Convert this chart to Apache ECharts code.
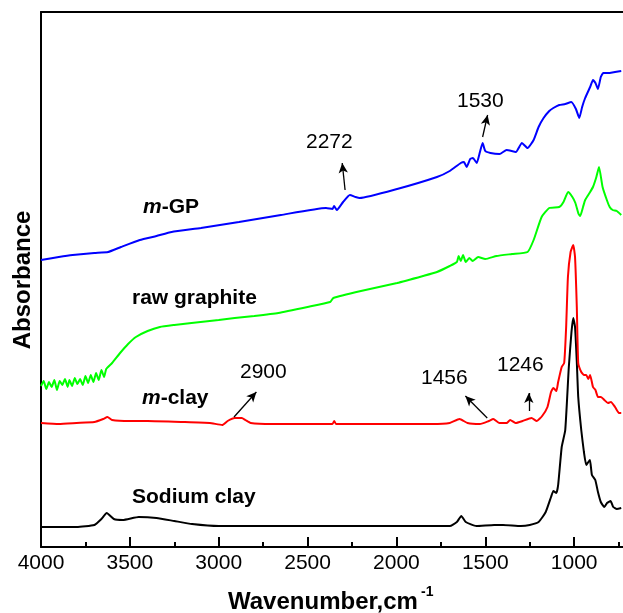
<!DOCTYPE html>
<html>
<head>
<meta charset="utf-8">
<title>FTIR spectra</title>
<script src="https://cdn.jsdelivr.net/npm/echarts@6/dist/echarts.min.js"></script>
<style>
  html, body { margin: 0; padding: 0; background: #fff; overflow: hidden; }
  /* the original figure is cropped on the right, so the canvas runs past the window */
  #chart { width: 666px; height: 613px; }
</style>
</head>
<body>
<div id="chart"></div>
<script>
// wavenumber (cm-1), offset absorbance (arb.)
const sodiumClay = [
  [4000, 20], [3800, 20], [3700, 22], [3660, 28], [3630, 34], [3590, 28], [3540, 27],
  [3450, 30], [3350, 29], [3250, 26], [3150, 23], [3000, 21], [2500, 21], [2000, 21],
  [1700, 21], [1660, 25], [1635, 31], [1610, 25], [1550, 21], [1450, 22], [1400, 22],
  [1300, 21], [1250, 22], [1200, 25], [1160, 35], [1130, 50], [1117, 56], [1100, 54],
  [1090, 62], [1070, 100], [1050, 117], [1030, 180], [1015, 215], [1005, 229], [995, 220],
  [985, 185], [977, 150], [960, 117], [945, 95], [932, 82], [920, 85], [911, 87], [900, 72],
  [881, 67], [866, 55], [850, 45], [830, 40], [815, 44], [795, 46], [780, 40], [760, 38], [735, 39]
]
const mClay = [
  [4000, 124], [3900, 123], [3800, 124], [3700, 125], [3650, 128], [3626, 130], [3600, 127],
  [3500, 126], [3400, 126], [3200, 125], [3050, 124], [2980, 122], [2950, 126], [2910, 129],
  [2870, 129], [2850, 127], [2820, 124], [2700, 123], [2500, 123], [2360, 123], [2350, 126],
  [2340, 123], [2200, 123], [1800, 123], [1700, 124], [1645, 128], [1600, 124], [1530, 123],
  [1480, 126], [1455, 128], [1420, 124], [1380, 124], [1360, 127], [1330, 124], [1290, 126],
  [1240, 129], [1210, 126], [1180, 131], [1150, 140], [1130, 155], [1117, 159], [1100, 156],
  [1090, 165], [1070, 180], [1056, 184], [1045, 220], [1035, 270], [1020, 295], [1005, 302],
  [995, 290], [985, 240], [977, 184], [960, 175], [945, 172], [932, 172], [920, 168],
  [910, 172], [894, 160], [880, 157], [866, 150], [849, 150], [830, 147], [810, 144],
  [793, 145], [770, 140], [748, 134], [735, 134]
]
const rawGraphite = [
  [4000, 161], [3985, 166], [3970, 158], [3955, 165], [3940, 160], [3925, 167], [3910, 157],
  [3895, 166], [3880, 162], [3865, 168], [3850, 160], [3840, 167], [3825, 161], [3810, 169],
  [3795, 163], [3780, 168], [3765, 162], [3750, 171], [3735, 164], [3720, 172], [3705, 165],
  [3690, 174], [3675, 167], [3660, 177], [3645, 170], [3633, 178], [3600, 184], [3555, 194],
  [3510, 203], [3466, 210], [3400, 216], [3331, 220], [3250, 222], [3153, 224], [3000, 227],
  [2910, 229], [2800, 231], [2664, 234], [2500, 240], [2373, 245], [2355, 249], [2200, 256],
  [1996, 264], [1850, 271], [1772, 275], [1700, 281], [1660, 285], [1650, 291], [1638, 286],
  [1625, 292], [1610, 285], [1590, 289], [1570, 286], [1540, 290], [1500, 288], [1437, 291],
  [1350, 293], [1262, 295], [1228, 307], [1183, 330], [1140, 339], [1084, 340], [1060, 345],
  [1034, 355], [1010, 350], [993, 344], [975, 333], [966, 331], [950, 340], [938, 347],
  [910, 355], [894, 360], [875, 370], [860, 380], [840, 360], [816, 347], [800, 340],
  [783, 337], [760, 336], [735, 332]
]
const mGP = [
  [4000, 287], [3900, 290], [3822, 292], [3700, 294], [3622, 295], [3550, 300], [3444, 307],
  [3350, 311], [3265, 315], [3100, 319], [2886, 325], [2650, 332], [2396, 339], [2360, 338],
  [2351, 341], [2335, 337], [2300, 345], [2262, 352], [2230, 350], [2207, 349], [1996, 358],
  [1772, 370], [1700, 376], [1638, 384], [1620, 385], [1605, 380], [1585, 388], [1570, 389],
  [1548, 384], [1530, 395], [1515, 404], [1500, 396], [1471, 394], [1420, 393], [1380, 397],
  [1328, 395], [1294, 404], [1262, 399], [1228, 407], [1200, 420], [1172, 429], [1140, 436],
  [1117, 439], [1084, 442], [1050, 443], [1016, 445], [990, 438], [971, 429], [955, 440],
  [938, 449], [910, 460], [894, 467], [880, 464], [866, 458], [850, 470], [836, 474],
  [800, 474], [770, 475], [735, 476]
]
const xTicks = [4000, 3500, 3000, 2500, 2000, 1500, 1000]

// peak markers: [tail, head] in wavenumber / absorbance units
const arrows = [
  [[2289, 357], [2305, 384]],
  [[1515, 410], [1487, 432]],
  [[2914, 130], [2788, 155]],
  [[1489, 129], [1612, 151]],
  [[1255, 136], [1255, 154]]
]

const font = "'Liberation Sans', Arial, sans-serif"
const chart = echarts.init(document.getElementById('chart'))

const lineSeries = (name, data, color) => ({
  name: name,
  type: 'line',
  data: data,
  showSymbol: false,
  smooth: 0.15,
  lineStyle: { color: color, width: 2 },
  animation: false,
  silent: true
})

const label = (text, x, y, extra) => ({
  type: 'text',
  x: x,
  y: y,
  style: Object.assign({
    text: text,
    fill: '#000',
    font: '21px ' + font,
    verticalAlign: 'middle'
  }, extra || {})
})

const black = lineSeries('Sodium clay', sodiumClay, '#000000')
black.markLine = {
  silent: true,
  animation: false,
  symbol: ['none', 'arrow'],
  symbolSize: [7, 10],
  label: { show: false },
  lineStyle: { color: '#000', width: 1.3, type: 'solid' },
  data: arrows.map(a => [{ coord: a[0] }, { coord: a[1] }])
}

const italicM = { i: { fontStyle: 'italic', fontWeight: 'bold', fontSize: 21, fontFamily: font } }

const option = {
  animation: false,
  grid: { left: 41, right: 0, top: 12, bottom: 66 },
  xAxis: [
    {
      type: 'value',
      min: 500,
      max: 4000,
      interval: 500,
      inverse: true,
      position: 'bottom',
      axisLine: { show: true, lineStyle: { color: '#000', width: 2 } },
      axisTick: { show: true, inside: true, length: 10, lineStyle: { color: '#000', width: 2 } },
      minorTick: { show: true, splitNumber: 2, length: 5, lineStyle: { color: '#000', width: 2 } },
      axisLabel: {
        color: '#000', fontSize: 21, fontFamily: font, margin: 6,
        formatter: v => (xTicks.indexOf(v) >= 0 ? String(v) : '')
      },
      splitLine: { show: false }
    },
    {
      type: 'value',
      min: 500,
      max: 4000,
      inverse: true,
      position: 'top',
      axisLine: { show: true, lineStyle: { color: '#000', width: 2 } },
      axisTick: { show: false },
      axisLabel: { show: false },
      splitLine: { show: false }
    }
  ],
  yAxis: {
    type: 'value',
    min: 0,
    max: 535,
    axisLine: { show: true, lineStyle: { color: '#000', width: 2 } },
    axisTick: { show: false },
    axisLabel: { show: false },
    splitLine: { show: false }
  },
  series: [
    black,
    lineSeries('m-clay', mClay, '#ff0000'),
    lineSeries('raw graphite', rawGraphite, '#00ff00'),
    lineSeries('m-GP', mGP, '#0000ff')
  ],
  graphic: [
    {
      type: 'text',
      x: 23,
      y: 280,
      rotation: Math.PI / 2,
      style: {
        text: 'Absorbance', fill: '#000', font: 'bold 24px ' + font,
        align: 'center', verticalAlign: 'middle'
      }
    },
    label('Wavenumber,cm', 228, 602, { font: 'bold 24px ' + font }),
    label('-1', 421, 592, { font: 'bold 14px ' + font }),
    label('{i|m}-GP', 143, 207, { font: 'bold 21px ' + font, rich: italicM }),
    label('raw graphite', 132, 298, { font: 'bold 21px ' + font }),
    label('{i|m}-clay', 142, 398, { font: 'bold 21px ' + font, rich: italicM }),
    label('Sodium clay', 132, 497, { font: 'bold 21px ' + font }),
    label('2272', 306, 142),
    label('1530', 457, 101),
    label('2900', 240, 372),
    label('1456', 421, 378),
    label('1246', 497, 365)
  ]
}

chart.setOption(option)
</script>
</body>
</html>
